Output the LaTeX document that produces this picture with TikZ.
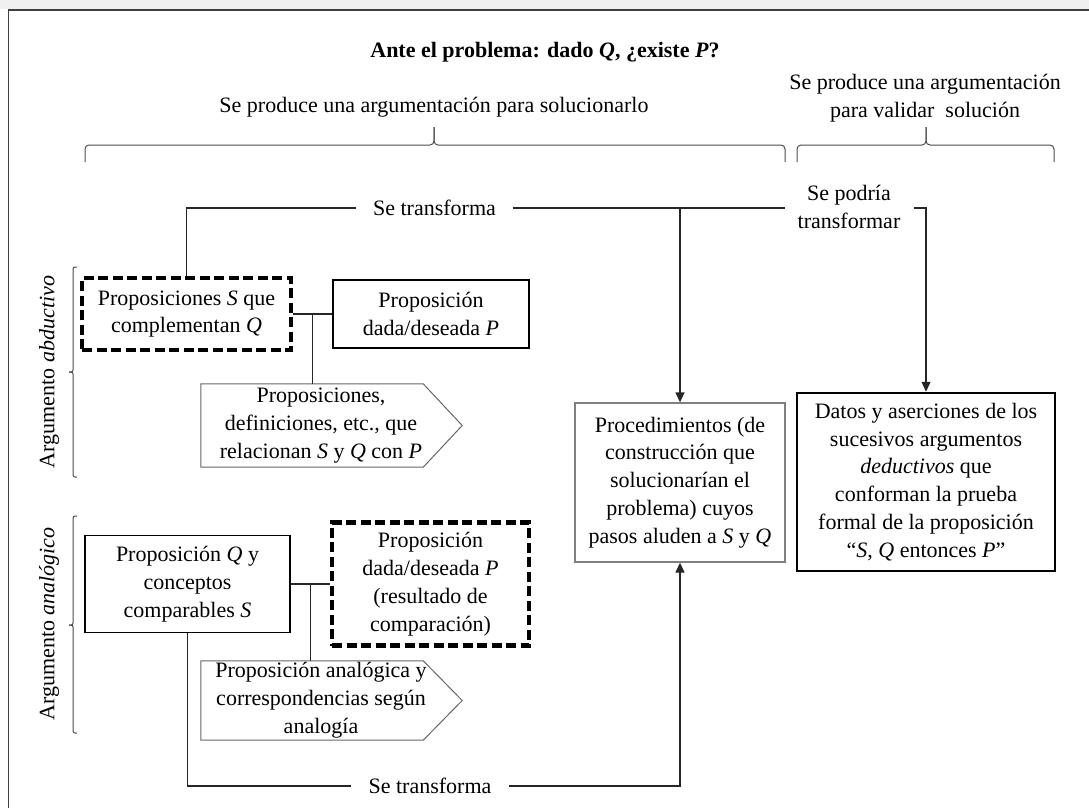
\documentclass[tikz,border=0pt]{standalone}
\usepackage{fontspec}
\setmainfont{Liberation Serif}
\usetikzlibrary{arrows.meta,positioning,calc}
\tikzstyle{txt}=[align=center,inner sep=0pt,font=\fontsize{22}{27.8}\selectfont]
\tikzstyle{box}=[txt,draw,line width=1.3pt]
\tikzstyle{dbox}=[txt,draw,line width=4.2pt,dash pattern=on 10pt off 4.5pt]
\tikzstyle{lbl}=[txt,inner xsep=16.5pt,inner ysep=2pt]
\tikzstyle{link}=[line width=1.3pt,draw=black!85]
\tikzstyle{arrow}=[link,-{Triangle[length=10pt,width=9pt]}]
\tikzstyle{brc}=[line width=1pt,draw=black!70,rounded corners=4pt]
\tikzstyle{tip}=[line width=1pt,draw=black!60]

\begin{document}
\begin{tikzpicture}[x=1pt,y=-1pt]
    \useasboundingbox (0,0) rectangle (1089,808);
    \fill[black!6] (0,0) rectangle (1089,9);
    \draw[line width=1.5pt,black!75] (8.5,808) -- (8.5,10) -- (1089,10);

    \node[txt,font=\bfseries\fontsize{22}{27.8}\selectfont] (ttl) at (545,52) {Ante el problema: dado \textit{Q}, ¿existe \textit{P}?};
    \node[txt] (sol) at (434,107) {Se produce una argumentación para solucionarlo};
    \node[txt] (val) at (925,98.5) {Se produce una argumentación\\para validar\ \ solución};

    \draw[brc] (85,162) |- (434,145) -- (434,127);
    \draw[brc] (785,162) |- (434,145) -- (434,127);
    \draw[brc] (797,162) |- (926,145) -- (926,127);
    \draw[brc] (1054,162) |- (926,145) -- (926,127);

    \node[lbl] (tr1) at (434.5,208) {Se transforma};
    \node[lbl,inner xsep=13pt] (tr2) at (849,207) {Se podría\\transformar};
    \node[lbl,inner xsep=17pt] (tr3) at (430,786) {Se transforma};

    \node[txt,rotate=90] (abd) at (49,372) {Argumento \textit{abductivo}};
    \node[txt,rotate=90] (anl) at (49,624) {Argumento \textit{analógico}};
    \draw[brc,rounded corners=2pt] (77,267) -| (73,372) -- (69,372);
    \draw[brc,rounded corners=2pt] (77,477) -| (73,372) -- (69,372);
    \draw[brc,rounded corners=2pt] (77,516) -| (73,625) -- (69,625);
    \draw[brc,rounded corners=2pt] (77,733) -| (73,625) -- (69,625);

    \node[dbox,minimum width=209,minimum height=72] (sq) at (186.5,314) {Proposiciones \textit{S} que\\complementan \textit{Q}};
    \node[box,minimum width=196,minimum height=68] (pa) at (431,314) {Proposición\\dada/deseada \textit{P}};
    \node[txt,minimum width=240,minimum height=83] (rel) at (321,425.5) {Proposiciones,\\definiciones, etc., que\\relacionan \textit{S} y \textit{Q} con \textit{P}};
    \draw[tip] (rel.north west) -- ([xshift=-18pt]rel.north east) -- ([xshift=21pt]rel.east) -- ([xshift=-18pt]rel.south east) -- (rel.south west) -- cycle;

    \node[box,line width=1.8pt,minimum width=205,minimum height=97] (qs) at (187.5,584) {Proposición \textit{Q} y\\conceptos\\comparables \textit{S}};
    \node[dbox,minimum width=197,minimum height=123] (pb) at (430.5,584) {Proposición\\dada/deseada \textit{P}\\(resultado de\\comparación)};
    \node[txt,minimum width=240,minimum height=79] (ana) at (321,700.5) {Proposición analógica y\\correspondencias según\\analogía};
    \draw[tip] (ana.north west) -- ([xshift=-18pt]ana.north east) -- ([xshift=21pt]ana.east) -- ([xshift=-18pt]ana.south east) -- (ana.south west) -- cycle;

    \node[box,draw=black!50,minimum width=210,minimum height=159] (proc) at (680,482.5) {Procedimientos (de\\construcción que\\solucionarían el\\problema) cuyos\\pasos aluden a \textit{S} y \textit{Q}};
    \node[box,line width=2.5pt,minimum width=258,minimum height=178] (dat) at (926,482) {Datos y aserciones de los\\sucesivos argumentos\\\textit{deductivos} que\\conforman la prueba\\formal de la proposición\\``\textit{S}, \textit{Q} entonces \textit{P}''};

    \draw[link] (sq.north) |- (tr1.west);
    \draw[link] (tr1.east) -- (tr2.west |- tr1.east);
    \coordinate (j1) at (proc.north |- tr1.east);
    \draw[arrow] (j1) -- (proc.north);
    \draw[arrow] (tr2.east |- tr1.east) -| (dat.north);

    \coordinate (k1) at ($(sq.east)!0.5!(pa.west)$);
    \draw[link] (sq.east) -- (pa.west);
    \draw[link] (k1) -- (k1 |- rel.north);
    \coordinate (k2) at ($(qs.east)!0.5!(pb.west)$);
    \draw[link] (qs.east) -- (pb.west);
    \draw[link] (k2) -- (k2 |- ana.north);

    \draw[link,line width=1.5pt] (qs.south) |- (tr3.west);
    \draw[arrow] (tr3.east) -| (proc.south);
\end{tikzpicture}
\end{document}
